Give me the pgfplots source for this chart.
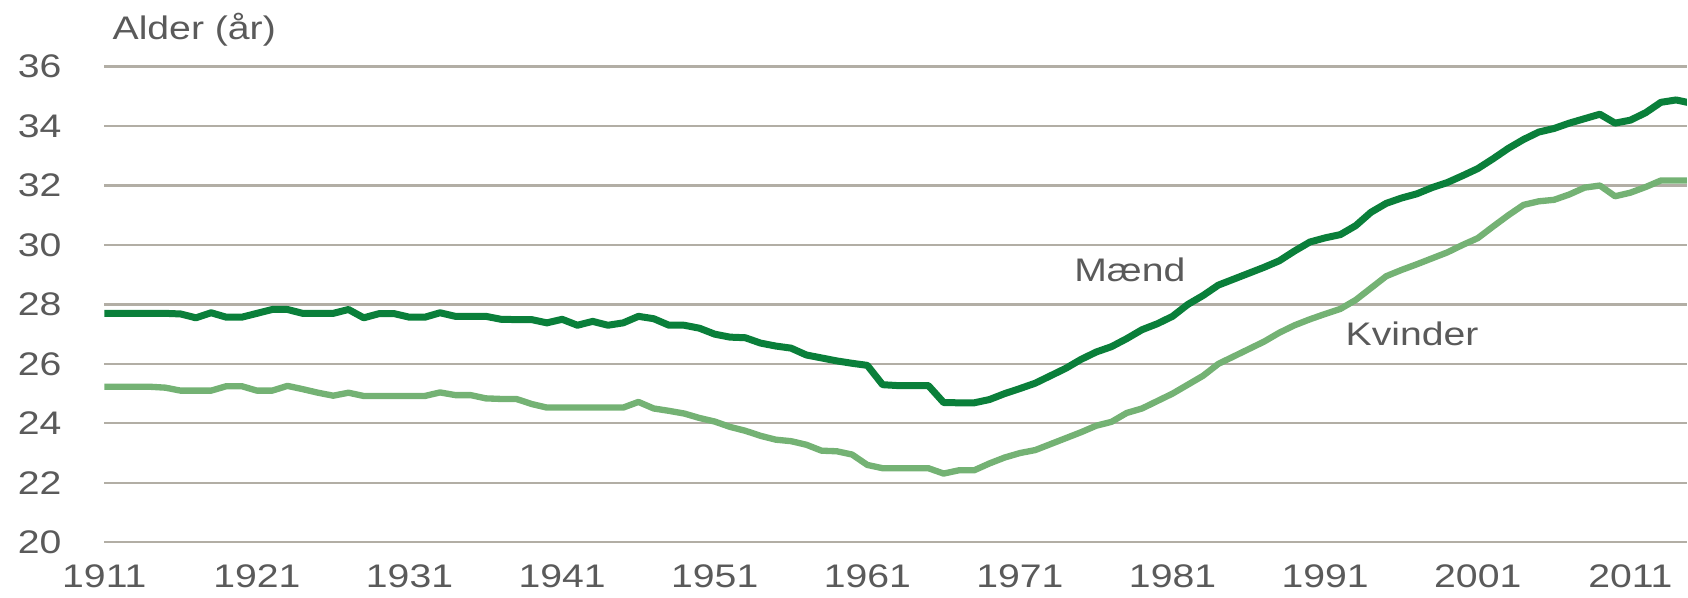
\documentclass[border=0pt]{standalone}
\usepackage{fontspec}
\setmainfont{Liberation Sans}[FakeStretch=1.2]
\usepackage{pgfplots}
\usepackage{pgfplotstable}
\pgfplotsset{compat=1.18}
\definecolor{maend}{HTML}{0A7F3A}
\definecolor{kvinder}{HTML}{74B274}
\definecolor{gridgray}{HTML}{B2AEA5}
\definecolor{txtgray}{HTML}{5A5A5A}
\newcommand{\lbl}{\fontsize{9.8}{11}\selectfont}

% Gennemsnitsalder ved første ægteskab
\pgfplotstableread{
year maend kvinder
1911 27.70 25.23
1912 27.70 25.23
1913 27.70 25.23
1914 27.70 25.23
1915 27.70 25.20
1916 27.68 25.10
1917 27.55 25.10
1918 27.72 25.10
1919 27.57 25.25
1920 27.57 25.25
1921 27.70 25.10
1922 27.83 25.10
1923 27.83 25.26
1924 27.70 25.15
1925 27.70 25.03
1926 27.70 24.93
1927 27.83 25.03
1928 27.55 24.92
1929 27.69 24.92
1930 27.69 24.92
1931 27.57 24.92
1932 27.57 24.92
1933 27.72 25.04
1934 27.60 24.95
1935 27.60 24.95
1936 27.60 24.84
1937 27.50 24.82
1938 27.49 24.82
1939 27.49 24.65
1940 27.38 24.53
1941 27.50 24.53
1942 27.30 24.53
1943 27.43 24.53
1944 27.30 24.53
1945 27.38 24.53
1946 27.60 24.72
1947 27.52 24.50
1948 27.30 24.42
1949 27.30 24.33
1950 27.20 24.18
1951 27.00 24.06
1952 26.90 23.88
1953 26.88 23.75
1954 26.70 23.58
1955 26.60 23.45
1956 26.53 23.40
1957 26.30 23.28
1958 26.20 23.08
1959 26.10 23.06
1960 26.02 22.95
1961 25.95 22.60
1962 25.30 22.49
1963 25.27 22.49
1964 25.27 22.49
1965 25.27 22.49
1966 24.70 22.31
1967 24.69 22.42
1968 24.69 22.42
1969 24.80 22.65
1970 25.00 22.85
1971 25.17 23.00
1972 25.35 23.10
1973 25.60 23.30
1974 25.85 23.50
1975 26.15 23.70
1976 26.40 23.92
1977 26.58 24.05
1978 26.85 24.35
1979 27.15 24.50
1980 27.35 24.75
1981 27.60 25.00
1982 28.00 25.30
1983 28.30 25.60
1984 28.65 26.00
1985 28.85 26.25
1986 29.05 26.50
1987 29.25 26.75
1988 29.47 27.05
1989 29.80 27.30
1990 30.10 27.50
1991 30.24 27.68
1992 30.35 27.85
1993 30.65 28.15
1994 31.10 28.55
1995 31.40 28.95
1996 31.58 29.16
1997 31.72 29.35
1998 31.93 29.55
1999 32.10 29.75
2000 32.33 30.00
2001 32.57 30.23
2002 32.90 30.62
2003 33.25 31.00
2004 33.55 31.35
2005 33.80 31.47
2006 33.92 31.52
2007 34.10 31.70
2008 34.25 31.93
2009 34.40 32.00
2010 34.10 31.64
2011 34.20 31.76
2012 34.45 31.95
2013 34.80 32.17
2014 34.88 32.17
2015 34.77 32.17
}\alder

\begin{document}
\begin{tikzpicture}[font=\lbl]
\begin{axis}[
  scale only axis,
  width=475.08pt,
  height=142.77pt,
  xmin=1911, xmax=2014.7,
  ymin=20, ymax=36,
  enlargelimits=false,
  clip mode=individual,
  axis line style={draw=none},
  major tick length=0pt,
  xtick={1911,1921,...,2011},
  ytick={20,22,...,36},
  ymajorgrids,
  major grid style={gridgray, line width=0.7pt},
  /pgf/number format/1000 sep={},
  /pgf/number format/assume math mode=true,
  tick label style={font=\lbl, text=txtgray},
  yticklabel style={anchor=east, inner sep=0pt, xshift=-12.7pt},
  xticklabel style={anchor=north, inner sep=0pt, yshift=-6.5pt},
]
\addplot[kvinder, line width=1.9pt, line join=round] table[x=year, y=kvinder] {\alder};
\addplot[maend, line width=2.1pt, line join=round] table[x=year, y=maend] {\alder};
\node[text=txtgray, anchor=center] at (axis cs:1978.2,29.17) {Mænd};
\node[text=txtgray, anchor=center] at (axis cs:1996.7,27.02) {Kvinder};
\node[text=txtgray, anchor=base west, inner sep=0pt] at (axis cs:1911.5,36.92) {Alder (år)};
\end{axis}
\path ([xshift=-31.32pt,yshift=-16.62pt]current axis.south west) rectangle ([yshift=20.01pt]current axis.north east);
\end{tikzpicture}
\end{document}
